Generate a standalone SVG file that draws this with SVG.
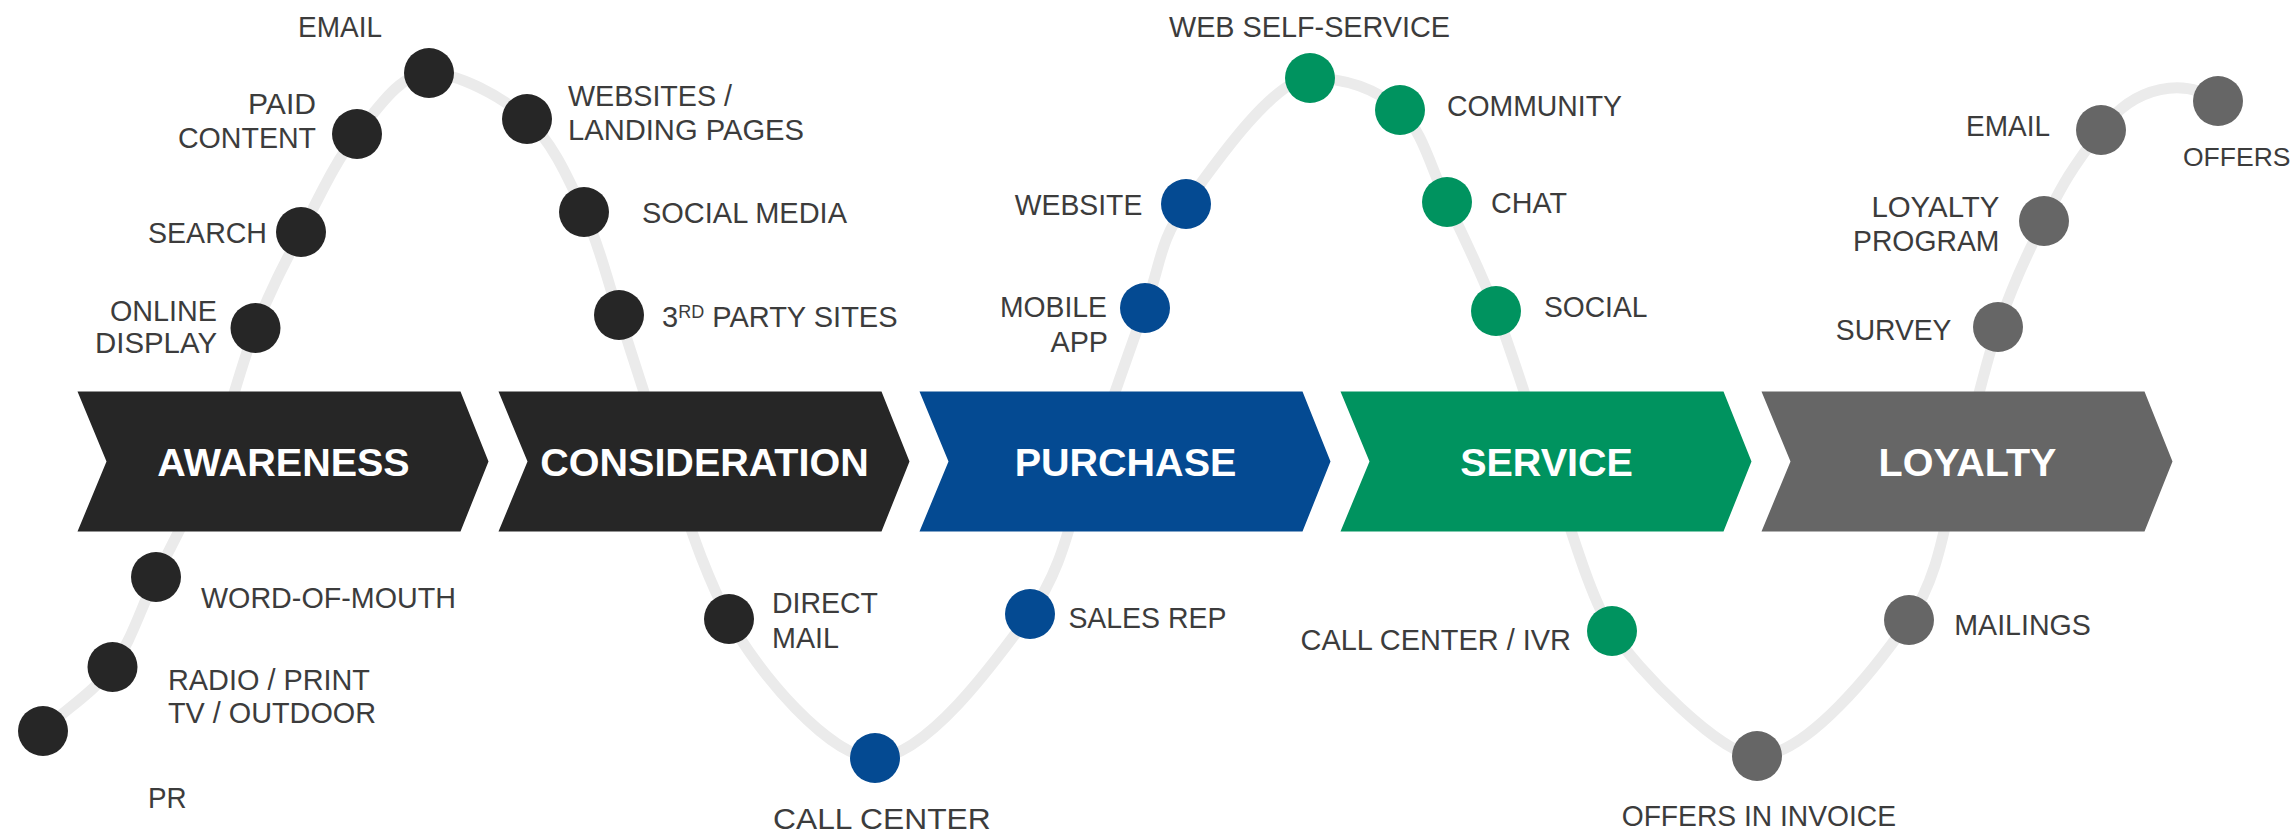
<svg xmlns="http://www.w3.org/2000/svg" width="2293" height="836" viewBox="0 0 2293 836">
  <style>
    .wave { fill: none; stroke: #ebebeb; stroke-width: 11; stroke-linecap: round; stroke-linejoin: round; }
    .stage { font-family: "Liberation Sans", Arial, sans-serif; font-weight: bold; font-size: 39.5px; fill: #ffffff; text-anchor: middle; }
    .lbl { font-family: "Liberation Sans", Arial, sans-serif; font-size: 30px; fill: #3c3c3c; }
    .end { text-anchor: end; }
    .mid { text-anchor: middle; }
    .dark { fill: #262626; }
    .blue { fill: #044a92; }
    .green { fill: #00935f; }
    .gray { fill: #666666; }
  </style>
  <rect x="0" y="0" width="2293" height="836" fill="#ffffff"/>

  <g id="connectors">
    <path class="wave" d="M43,731 C63,711 93.67,692.67 112.5,667 C131.33,641.33 139.58,611.17 156,577 C172.42,542.83 194.42,503.5 211,462 C227.58,420.5 240.5,366.33 255.5,328 C270.5,289.67 284.08,264.33 301,232 C317.92,199.67 335.67,160.5 357,134 C378.33,107.5 400.67,73 429,73 C457.33,73 501.17,95.83 527,119 C552.83,142.17 568.67,179.33 584,212 C599.33,244.67 605.08,273.42 619,315 C632.92,356.58 649.17,410.83 667.5,461.5 C685.83,512.17 701,566 729,619 C757,672 830,758 875,758 C925.17,758 994.17,663.42 1030,614 C1065.83,564.58 1070.83,512.5 1090,461.5 C1109.17,410.5 1129,350.92 1145,308 C1161,265.08 1158.5,242.33 1186,204 C1213.5,165.67 1274.33,78 1310,78 C1345.67,78 1377.17,89.33 1400,110 C1422.83,130.67 1431,168.5 1447,202 C1463,235.5 1479.17,267.75 1496,311 C1512.83,354.25 1528.67,408.17 1548,461.5 C1567.33,514.83 1588,594 1612,631 C1636,668 1722,757 1757,756 C1806.5,756 1875.08,669.08 1909,620 C1942.92,570.92 1945.67,510.33 1960.5,461.5 C1975.33,412.67 1984.08,367.08 1998,327 C2011.92,286.92 2026.83,253.83 2044,221 C2061.17,188.17 2066,176 2101,130 C2136,84 2185,78 2218,101"/>
  </g>

  <g id="stage-awareness">
    <polygon class="dark" points="77.5,391.5 460.5,391.5 488.5,461.5 460.5,531.5 77.5,531.5 106.5,461.5"/>
    <text class="stage" x="283.5" y="476">AWARENESS</text>
  </g>
  <g id="stage-consideration">
    <polygon class="dark" points="498.5,391.5 881.5,391.5 909.5,461.5 881.5,531.5 498.5,531.5 527.5,461.5"/>
    <text class="stage" x="704.5" y="476">CONSIDERATION</text>
  </g>
  <g id="stage-purchase">
    <polygon class="blue" points="919.5,391.5 1302.5,391.5 1330.5,461.5 1302.5,531.5 919.5,531.5 948.5,461.5"/>
    <text class="stage" x="1125.5" y="476">PURCHASE</text>
  </g>
  <g id="stage-service">
    <polygon class="green" points="1340.5,391.5 1723.5,391.5 1751.5,461.5 1723.5,531.5 1340.5,531.5 1369.5,461.5"/>
    <text class="stage" x="1546.5" y="476">SERVICE</text>
  </g>
  <g id="stage-loyalty">
    <polygon class="gray" points="1761.5,391.5 2144.5,391.5 2172.5,461.5 2144.5,531.5 1761.5,531.5 1790.5,461.5"/>
    <text class="stage" x="1967.5" y="476">LOYALTY</text>
  </g>

  <!-- Awareness touchpoints -->
  <g id="tp-pr"><circle class="dark" cx="43" cy="731" r="25"/><text class="lbl" x="148" y="808" textLength="38.6" lengthAdjust="spacingAndGlyphs">PR</text></g>
  <g id="tp-radio"><circle class="dark" cx="112.5" cy="667" r="25"/><text class="lbl" x="168" y="690" textLength="202" lengthAdjust="spacingAndGlyphs">RADIO / PRINT</text><text class="lbl" x="168" y="723.3" textLength="208" lengthAdjust="spacingAndGlyphs">TV / OUTDOOR</text></g>
  <g id="tp-wom"><circle class="dark" cx="156" cy="577" r="25"/><text class="lbl" x="201" y="608.3" textLength="255" lengthAdjust="spacingAndGlyphs">WORD-OF-MOUTH</text></g>
  <g id="tp-online-display"><circle class="dark" cx="255.5" cy="328" r="25"/><text class="lbl end" x="217" y="320.7" textLength="107" lengthAdjust="spacingAndGlyphs">ONLINE</text><text class="lbl end" x="217" y="353.3" textLength="122" lengthAdjust="spacingAndGlyphs">DISPLAY</text></g>
  <g id="tp-search"><circle class="dark" cx="301" cy="232" r="25"/><text class="lbl end" x="267" y="242.7" textLength="119" lengthAdjust="spacingAndGlyphs">SEARCH</text></g>
  <g id="tp-paid-content"><circle class="dark" cx="357" cy="134" r="25"/><text class="lbl end" x="316" y="114.3" textLength="68" lengthAdjust="spacingAndGlyphs">PAID</text><text class="lbl end" x="316" y="147.7" textLength="138" lengthAdjust="spacingAndGlyphs">CONTENT</text></g>
  <g id="tp-email-1"><circle class="dark" cx="429" cy="73" r="25"/><text class="lbl" x="298" y="37" textLength="84" lengthAdjust="spacingAndGlyphs">EMAIL</text></g>

  <!-- Consideration touchpoints -->
  <g id="tp-websites"><circle class="dark" cx="527" cy="119" r="25"/><text class="lbl" x="568" y="106" textLength="164" lengthAdjust="spacingAndGlyphs">WEBSITES /</text><text class="lbl" x="568" y="140" textLength="236" lengthAdjust="spacingAndGlyphs">LANDING PAGES</text></g>
  <g id="tp-social-media"><circle class="dark" cx="584" cy="212" r="25"/><text class="lbl" x="642" y="222.7" textLength="205" lengthAdjust="spacingAndGlyphs">SOCIAL MEDIA</text></g>
  <g id="tp-3rd-party"><circle class="dark" cx="619" cy="315" r="25"/><text class="lbl" x="662" y="326.7" style="font-size:29px">3<tspan dy="-8.4" style="font-size:18px">RD</tspan><tspan dy="8.4"> PARTY SITES</tspan></text></g>
  <g id="tp-direct-mail"><circle class="dark" cx="729" cy="619" r="25"/><text class="lbl" x="772" y="613.3" textLength="106" lengthAdjust="spacingAndGlyphs">DIRECT</text><text class="lbl" x="772" y="648.3" textLength="67" lengthAdjust="spacingAndGlyphs">MAIL</text></g>

  <!-- Purchase touchpoints -->
  <g id="tp-call-center"><circle class="blue" cx="875" cy="758" r="25"/><text class="lbl" x="773" y="829.3" textLength="217.7" lengthAdjust="spacingAndGlyphs">CALL CENTER</text></g>
  <g id="tp-sales-rep"><circle class="blue" cx="1030" cy="614" r="25"/><text class="lbl" x="1068.4" y="628.3" textLength="158" lengthAdjust="spacingAndGlyphs">SALES REP</text></g>
  <g id="tp-mobile-app"><circle class="blue" cx="1145" cy="308" r="25"/><text class="lbl end" x="1107" y="316.7" textLength="107" lengthAdjust="spacingAndGlyphs">MOBILE</text><text class="lbl end" x="1108" y="351.7" textLength="57.5" lengthAdjust="spacingAndGlyphs">APP</text></g>
  <g id="tp-website"><circle class="blue" cx="1186" cy="204" r="25"/><text class="lbl end" x="1142.3" y="215" textLength="127.5" lengthAdjust="spacingAndGlyphs">WEBSITE</text></g>

  <!-- Service touchpoints -->
  <g id="tp-web-self-service"><circle class="green" cx="1310" cy="78" r="25"/><text class="lbl" x="1169" y="36.7" textLength="281" lengthAdjust="spacingAndGlyphs">WEB SELF-SERVICE</text></g>
  <g id="tp-community"><circle class="green" cx="1400" cy="110" r="25"/><text class="lbl" x="1447" y="116" textLength="175" lengthAdjust="spacingAndGlyphs">COMMUNITY</text></g>
  <g id="tp-chat"><circle class="green" cx="1447" cy="202" r="25"/><text class="lbl" x="1491" y="213.3" textLength="76" lengthAdjust="spacingAndGlyphs">CHAT</text></g>
  <g id="tp-social"><circle class="green" cx="1496" cy="311" r="25"/><text class="lbl" x="1544" y="316.7" textLength="103.4" lengthAdjust="spacingAndGlyphs">SOCIAL</text></g>
  <g id="tp-call-center-ivr"><circle class="green" cx="1612" cy="631" r="25"/><text class="lbl end" x="1571" y="650" textLength="270.5" lengthAdjust="spacingAndGlyphs">CALL CENTER / IVR</text></g>

  <!-- Loyalty touchpoints -->
  <g id="tp-offers-invoice"><circle class="gray" cx="1757" cy="756" r="25"/><text class="lbl" x="1621.7" y="825.7" textLength="274.3" lengthAdjust="spacingAndGlyphs">OFFERS IN INVOICE</text></g>
  <g id="tp-mailings"><circle class="gray" cx="1909" cy="620" r="25"/><text class="lbl" x="1954.3" y="635" textLength="136.5" lengthAdjust="spacingAndGlyphs">MAILINGS</text></g>
  <g id="tp-survey"><circle class="gray" cx="1998" cy="327" r="25"/><text class="lbl end" x="1951.4" y="340" textLength="115.6" lengthAdjust="spacingAndGlyphs">SURVEY</text></g>
  <g id="tp-loyalty-program"><circle class="gray" cx="2044" cy="221" r="25"/><text class="lbl end" x="1999.4" y="216.7" textLength="128" lengthAdjust="spacingAndGlyphs">LOYALTY</text><text class="lbl end" x="1999.4" y="250.7" textLength="146.4" lengthAdjust="spacingAndGlyphs">PROGRAM</text></g>
  <g id="tp-email-2"><circle class="gray" cx="2101" cy="130" r="25"/><text class="lbl end" x="2050" y="136" textLength="84" lengthAdjust="spacingAndGlyphs">EMAIL</text></g>
  <g id="tp-offers"><circle class="gray" cx="2218" cy="101" r="25"/><text class="lbl" x="2183" y="166" style="font-size:26.5px">OFFERS</text></g>
</svg>
